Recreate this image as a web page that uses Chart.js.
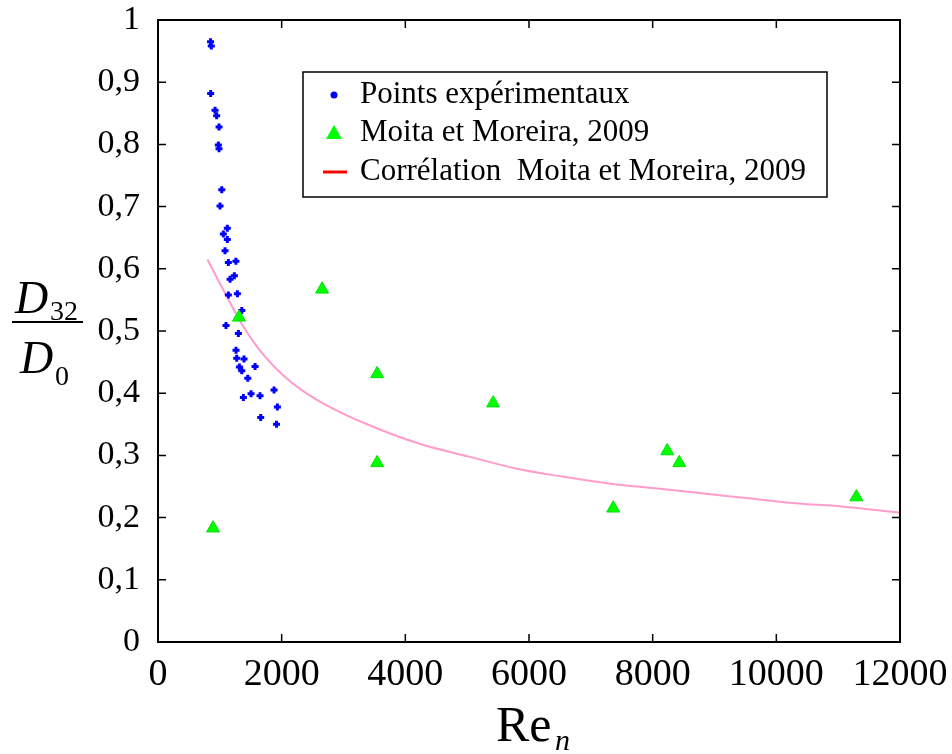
<!DOCTYPE html>
<html>
<head>
<meta charset="utf-8">
<script src="https://cdn.jsdelivr.net/npm/chart.js@4/dist/chart.umd.min.js"></script>
<style>
  body { margin: 0; background: #fff; }
  #wrap { width: 952px; height: 754px; }
</style>
</head>
<body>
<div id="wrap"><canvas id="dropChart"></canvas></div>
<script>
// points expérimentaux
const reExp = [850, 862, 852, 922, 949, 987, 976, 987, 1031, 1003, 1121, 1057, 1121, 1084, 1138, 1260, 1165, 1235,
    1138, 1284, 1355, 1100, 1300, 1262, 1273, 1391, 1316, 1355, 1570, 1452, 1381, 1505, 1650, 1877, 1931, 1661, 1917];
const d32Exp = [0.965, 0.958, 0.882, 0.855, 0.846, 0.828, 0.799, 0.793, 0.727, 0.701, 0.665, 0.656, 0.647, 0.629, 0.610, 0.612, 0.583, 0.589,
    0.558, 0.560, 0.533, 0.509, 0.496, 0.469, 0.456, 0.455, 0.442, 0.436, 0.443, 0.424, 0.393, 0.399, 0.396, 0.405, 0.378, 0.361, 0.350];

// Moita et Moreira, 2009
const reMoita = [890, 1310, 2654, 3544, 3544, 5420, 7362, 8236, 8430, 11294];
const d32Moita = [0.183, 0.522, 0.567, 0.431, 0.288, 0.384, 0.215, 0.307, 0.288, 0.233];

// corrélation
const reCorr = [800, 1083, 1346, 1647, 2023, 2324, 2775, 3528, 4282, 5032, 5786, 6537, 7291, 8042, 8796, 9547, 10302, 11051, 12000];
const d32Corr = [0.615, 0.561, 0.513, 0.469, 0.429, 0.405, 0.378, 0.344, 0.317, 0.298, 0.279, 0.266, 0.255, 0.247, 0.239, 0.231, 0.223, 0.218, 0.208];

const xTickValues = [0, 2000, 4000, 6000, 8000, 10000, 12000];
const legendLabels = ["Points expérimentaux", "Moita et Moreira, 2009", "Corrélation  Moita et Moreira, 2009"];

const serif = "'Liberation Serif', 'Times New Roman', serif";

function toPoints(xs, ys) {
    return xs.map((x, i) => ({ x: x, y: ys[i] }));
}

const framePlugin = {
    id: "frame",
    afterDraw(chart) {
        const ctx = chart.ctx;
        const a = chart.chartArea;
        const xs = chart.scales.x, ys = chart.scales.y;
        ctx.save();
        ctx.strokeStyle = "#000";
        ctx.lineWidth = 2;
        ctx.strokeRect(a.left, a.top, a.right - a.left, a.bottom - a.top);
        ctx.lineWidth = 1.5;
        ctx.beginPath();
        xs.ticks.forEach(t => {
            const px = xs.getPixelForValue(t.value);
            ctx.moveTo(px, a.bottom); ctx.lineTo(px, a.bottom - 8);
            ctx.moveTo(px, a.top); ctx.lineTo(px, a.top + 8);
        });
        ys.ticks.forEach(t => {
            const py = ys.getPixelForValue(t.value);
            ctx.moveTo(a.left, py); ctx.lineTo(a.left + 8, py);
            ctx.moveTo(a.right, py); ctx.lineTo(a.right - 8, py);
        });
        ctx.stroke();

        // legend box
        const lx = a.left + 145, ly = a.top + 52;
        ctx.fillStyle = "#fff";
        ctx.fillRect(lx, ly, 524, 125);
        ctx.lineWidth = 1.5;
        ctx.strokeRect(lx, ly, 524, 125);
        ctx.font = "31px " + serif;
        ctx.fillStyle = "#000";
        ctx.textBaseline = "middle";
        const rows = [ly + 23, ly + 61, ly + 100];
        legendLabels.forEach((lab, i) => ctx.fillText(lab, lx + 57, rows[i]));
        ctx.fillStyle = "#0000ff";
        ctx.beginPath(); ctx.arc(lx + 31, rows[0], 3.5, 0, Math.PI * 2); ctx.fill();
        ctx.fillStyle = "#00ff00";
        ctx.beginPath();
        ctx.moveTo(lx + 31, rows[1] - 8); ctx.lineTo(lx + 39, rows[1] + 6); ctx.lineTo(lx + 23, rows[1] + 6);
        ctx.closePath(); ctx.fill();
        ctx.strokeStyle = "#ff0000";
        ctx.lineWidth = 3;
        ctx.beginPath(); ctx.moveTo(lx + 20, rows[2]); ctx.lineTo(lx + 44, rows[2]); ctx.stroke();

        // axis titles
        ctx.fillStyle = "#000";
        ctx.textBaseline = "alphabetic";
        ctx.font = "italic 46px " + serif;
        ctx.fillText("D", 15, 313);
        ctx.fillText("D", 20, 373);
        ctx.font = "28px " + serif;
        ctx.fillText("32", 50, 320);
        ctx.fillText("0", 55, 385);
        ctx.strokeStyle = "#000";
        ctx.lineWidth = 2;
        ctx.beginPath(); ctx.moveTo(12, 322); ctx.lineTo(83, 322); ctx.stroke();

        ctx.font = "50px " + serif;
        ctx.fillText("Re", 496, 741);
        ctx.font = "italic 30px " + serif;
        ctx.fillText("n", 555, 750);
        ctx.restore();
    }
};

new Chart(document.getElementById("dropChart"), {
    type: "scatter",
    data: {
        datasets: [
            {
                label: legendLabels[2],
                type: "line",
                data: toPoints(reCorr, d32Corr),
                borderColor: "#ff9ccc",
                borderWidth: 2,
                pointRadius: 0,
                cubicInterpolationMode: "monotone",
                fill: false,
                order: 3
            },
            {
                label: legendLabels[0],
                data: toPoints(reExp, d32Exp),
                pointStyle: "cross",
                pointRadius: 3.5,
                borderWidth: 3,
                borderColor: "#0000ff",
                backgroundColor: "#0000ff",
                order: 2
            },
            {
                label: legendLabels[1],
                data: toPoints(reMoita, d32Moita),
                pointStyle: "triangle",
                pointRadius: 7.5,
                borderWidth: 1,
                borderColor: "#00e000",
                backgroundColor: "#00ff00",
                order: 1
            }
        ]
    },
    options: {
        responsive: true,
        maintainAspectRatio: false,
        animation: false,
        layout: { padding: { top: 20, right: 52, left: 0, bottom: 0 } },
        plugins: {
            legend: { display: false },
            tooltip: { enabled: false }
        },
        scales: {
            x: {
                type: "linear",
                min: 0,
                max: 12000,
                afterBuildTicks: s => { s.ticks = xTickValues.map(v => ({ value: v })); },
                afterFit: s => { s.height = 112; s.paddingLeft = 0; s.paddingRight = 0; },
                grid: { display: false },
                border: { display: false },
                ticks: {
                    color: "#000",
                    padding: 2,
                    maxRotation: 0,
                    font: { family: serif, size: 38 },
                    callback: v => String(v)
                }
            },
            y: {
                min: 0,
                max: 1,
                afterFit: s => { s.width = 158; s.paddingTop = 0; s.paddingBottom = 0; },
                grid: { display: false },
                border: { display: false },
                ticks: {
                    stepSize: 0.1,
                    color: "#000",
                    padding: 10,
                    font: { family: serif, size: 34 },
                    callback: v => (v === 0 || v === 1) ? String(v) : v.toFixed(1).replace(".", ",")
                }
            }
        }
    },
    plugins: [framePlugin]
});
</script>
</body>
</html>
